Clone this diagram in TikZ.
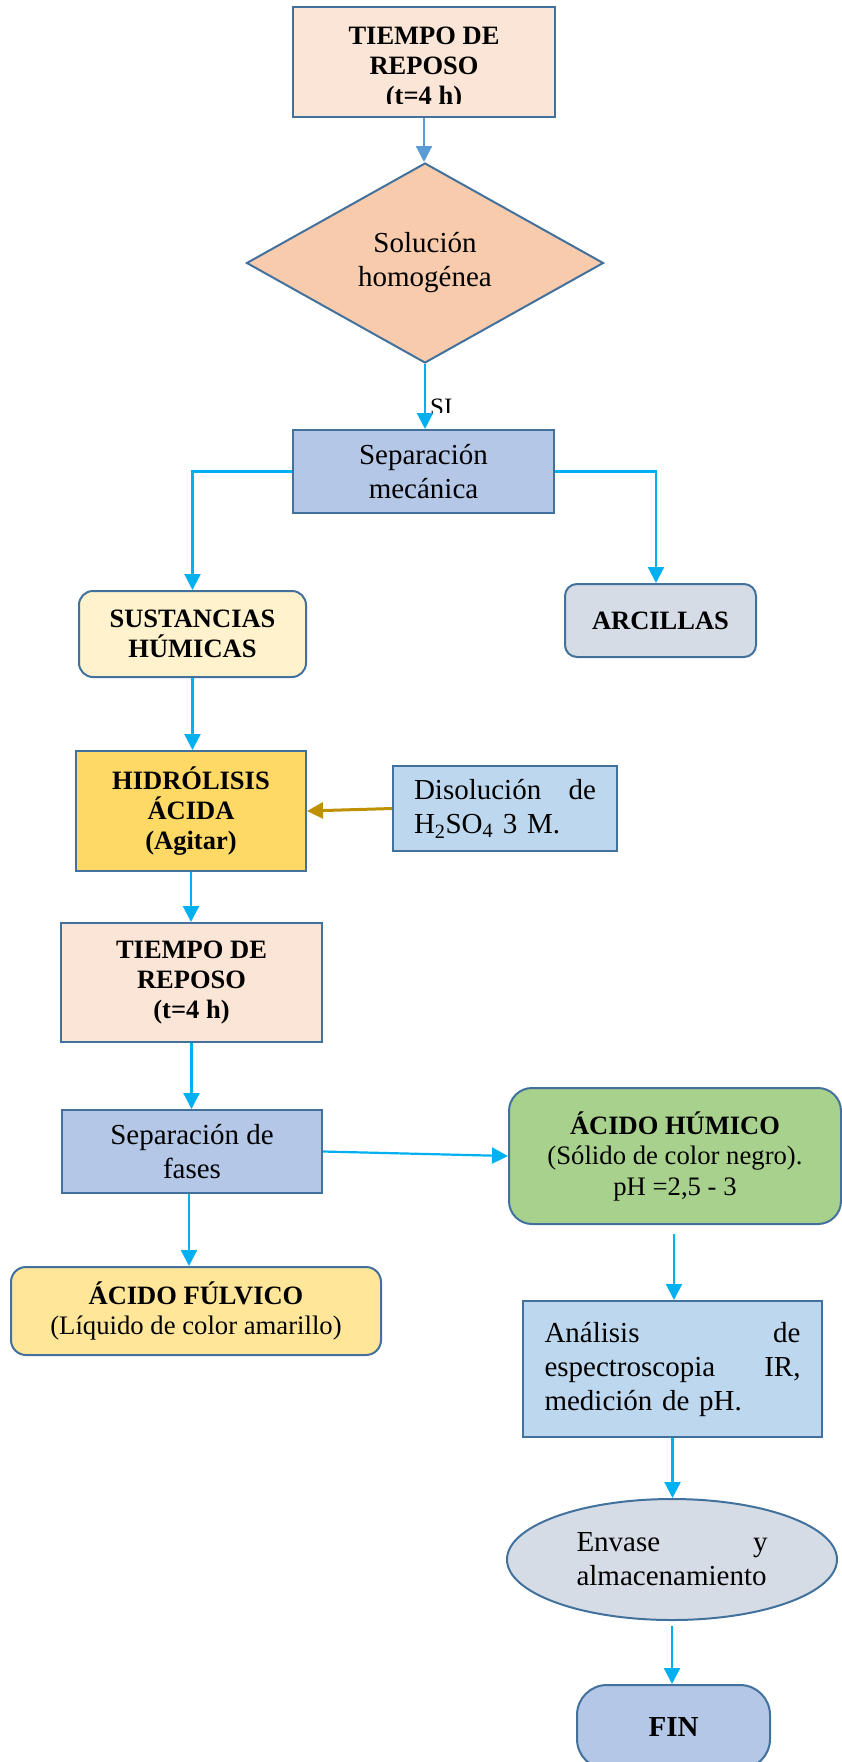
\documentclass[tikz,border=0pt]{standalone}
\usepackage{fontspec}
\setmainfont{Liberation Serif}
\usetikzlibrary{arrows.meta,shapes.geometric}
\definecolor{bdr}{HTML}{41719C}
\definecolor{cy}{HTML}{00B0F0}
\definecolor{lb}{HTML}{5B9BD5}
\definecolor{goldline}{HTML}{BF9000}
\definecolor{peach}{HTML}{FBE5D6}
\definecolor{dia}{HTML}{F8CBAD}
\definecolor{blu}{HTML}{B4C7E7}
\definecolor{cream}{HTML}{FFF2CC}
\definecolor{greyb}{HTML}{D6DCE5}
\definecolor{goldf}{HTML}{FFD966}
\definecolor{lblue}{HTML}{BDD7EE}
\definecolor{grn}{HTML}{A9D18E}
\definecolor{yel}{HTML}{FFE699}
\tikzset{
  box/.style={draw=bdr, line width=2pt, inner sep=0pt, align=center},
  rtext/.style={font=\fontsize{29}{34}\selectfont},
  btext/.style={font=\fontsize{26.5}{30}\selectfont\bfseries},
  arr/.style={draw=cy, line width=2.2pt, -{Triangle[width=16pt,length=16pt]}},
}
\begin{document}
\begin{tikzpicture}[x=1pt,y=-1pt]
\useasboundingbox (0,0) rectangle (841,1762);

% top box (text clipped)
\node[box, fill=peach, minimum width=262, minimum height=110] (t1) at (424,62) {};
\begin{scope}
  \clip (295,9) rectangle (553,103);
  \node[btext, align=center, inner sep=0pt] (t1txt) at (424,69) {TIEMPO DE\\REPOSO\\(t=4 h)};
\end{scope}

\node[box, shape=diamond, aspect=1.785, fill=dia, minimum width=357, minimum height=200, rtext] (dia) at (425,263) {Solución\\homogénea};

\node[box, fill=blu, minimum width=261, minimum height=83, rtext] (sepmec) at (423.5,471.5) {Separación\\mecánica};

\node[box, fill=cream, rounded corners=14pt, minimum width=227, minimum height=86, btext] (sust) at (192.5,634) {SUSTANCIAS\\HÚMICAS};

\node[box, fill=greyb, rounded corners=12pt, minimum width=191, minimum height=73, btext] (arc) at (660.5,620.5) {ARCILLAS};

\node[box, fill=goldf, minimum width=230, minimum height=120, btext] (hidro) at (191,811) {HIDRÓLISIS\\ÁCIDA\\(Agitar)};

\node[box, fill=lblue, minimum width=224, minimum height=85, rtext, text width=182pt, align=left] (dis) at (505,808.5) {Disolución\hfill de\\H\textsubscript{2}SO\textsubscript{4} 3 M.};

\node[box, fill=peach, minimum width=261, minimum height=119, btext] (t2) at (191.5,982.5) {TIEMPO DE\\REPOSO\\(t=4 h)};

\node[box, fill=blu, minimum width=260, minimum height=83, rtext] (sepf) at (192,1151.5) {Separación de\\fases};

\node[box, fill=grn, rounded corners=23pt, minimum width=332, minimum height=136, font=\fontsize{26.7}{30.5}\selectfont] (hum) at (675,1156) {{\bfseries\fontsize{26.5}{30.5}\selectfont ÁCIDO HÚMICO}\\(Sólido de color negro).\\pH =2,5 - 3};

\node[box, fill=yel, rounded corners=15pt, minimum width=370, minimum height=88, font=\fontsize{26.7}{30.5}\selectfont] (fulv) at (196,1311) {{\bfseries\fontsize{26.5}{30.5}\selectfont ÁCIDO FÚLVICO}\\(Líquido de color amarillo)};

\node[box, fill=lblue, minimum width=299, minimum height=136, rtext, text width=256pt, align=left] (ana) at (672.5,1369) {Análisis\hfill de\\espectroscopia\hfill IR,\\medición de pH.};

\node[box, shape=ellipse, fill=greyb, minimum width=330, minimum height=121, rtext, text width=191pt, align=left] (env) at (672,1559.5) {Envase\hfill y\\almacenamiento};

\node[box, fill=blu, rounded corners=30pt, minimum width=193, minimum height=84, font=\fontsize{29}{34}\selectfont\bfseries] (fin) at (673.5,1727) {FIN};

% connectors
\draw[arr, draw=lb, -{Triangle[width=16pt,length=16pt,fill=lb]}] (t1.south) -- (t1.south |- dia.north);
\draw[arr, -{Triangle[width=16pt,length=16pt,fill=cy]}] (dia.south) -- (dia.south |- sepmec.north);
\begin{scope}
  \clip (425,385) rectangle (470,412);
  \node[font=\fontsize{25}{30}\selectfont, anchor=base west, inner sep=0pt] (si) at (430,415) {SI};
\end{scope}
\draw[arr] (sepmec.west) -| (sust.north);
\draw[arr] (sepmec.east) -| ([xshift=-4.5pt]arc.north);
\draw[arr] (sust.south) -- (sust.south |- hidro.north);
\draw[arr, draw=goldline, line width=3pt] (dis.west) -- (hidro.east);
\draw[arr] (hidro.south) -- (hidro.south |- t2.north);
\draw[arr] (t2.south) -- (t2.south |- sepf.north);
\draw[arr] (sepf.east) -- (hum.west);
\draw[arr] ([xshift=-3pt]sepf.south) -- ([xshift=-3pt]sepf.south |- fulv.north);
\draw[arr, shorten <=9pt] ([xshift=-1pt]hum.south) -- ([xshift=-1pt]hum.south |- ana.north);
\draw[arr] (ana.south) -- (ana.south |- env.north);
\draw[arr, shorten <=5pt] (env.south) -- (env.south |- fin.north);
\end{tikzpicture}
\end{document}
